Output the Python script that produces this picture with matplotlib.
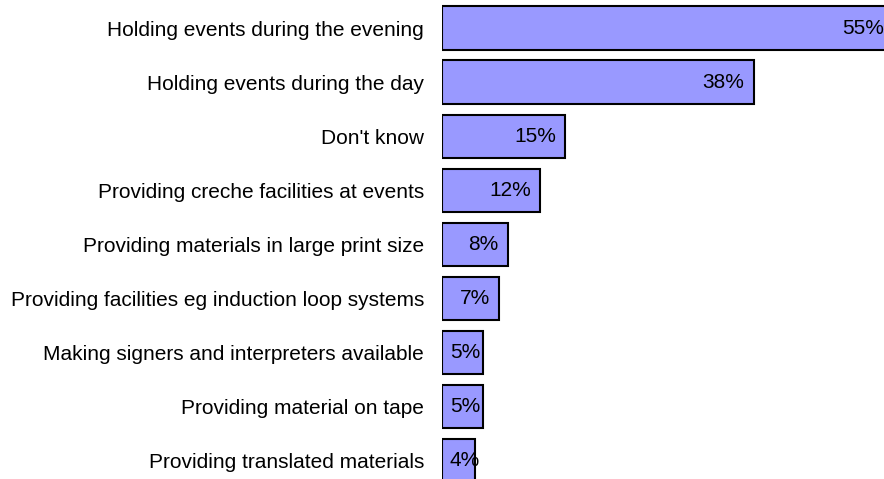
import matplotlib
matplotlib.use("Agg")
import matplotlib.pyplot as plt

categories = [
    "Holding events during the evening",
    "Holding events during the day",
    "Don't know",
    "Providing creche facilities at events",
    "Providing materials in large print size",
    "Providing facilities eg induction loop systems",
    "Making signers and interpreters available",
    "Providing material on tape",
    "Providing translated materials",
]
values = [55, 38, 15, 12, 8, 7, 5, 5, 4]
value_labels = ["55%", "38%", "15%", "12%", "8%", "7%", "5%", "5%", "4%"]

plt.rcParams["font.family"] = ["Liberation Sans", "DejaVu Sans"]

W, H, DPI = 884, 479, 100
pt = DPI / 72.0
fig = plt.figure(figsize=(W / DPI, H / DPI), dpi=DPI)
fig.patch.set_facecolor("white")

left_px = 442
ax = fig.add_axes([left_px / W, 0, 1 - left_px / W, 1])
px_per_unit = 8.2
ax.set_xlim(0, (W - left_px) / px_per_unit)
pitch = 54.1
ax.set_ylim((H - 28) / pitch, -28 / pitch)

ypos = list(range(len(categories)))
ax.barh(ypos, values, height=0.8, color="#9999ff", edgecolor="black",
        linewidth=1.5, zorder=2)

FS = 15
ax.set_yticks(ypos)
ax.set_yticklabels(categories, fontsize=FS)
ax.tick_params(axis="y", length=0, pad=18 / pt)
ax.set_xticks([])
for s in ax.spines.values():
    s.set_visible(False)

fig.canvas.draw()
renderer = fig.canvas.get_renderer()
for y, v, lab in zip(ypos, values, value_labels):
    t = ax.annotate(lab, xy=(v, y), xytext=(-9 / pt, 0), textcoords="offset points",
                    ha="right", va="center", fontsize=FS, zorder=3,
                    annotation_clip=False)
    bb = t.get_window_extent(renderer)
    x0 = ax.transData.transform((0, y))[0]
    if bb.x0 < x0 + 8:
        t.remove()
        ax.annotate(lab, xy=(0, y), xytext=(8 / pt, 0), textcoords="offset points",
                    ha="left", va="center", fontsize=FS, zorder=3,
                    annotation_clip=False)

fig.savefig("out.png", dpi=DPI, facecolor="white")
